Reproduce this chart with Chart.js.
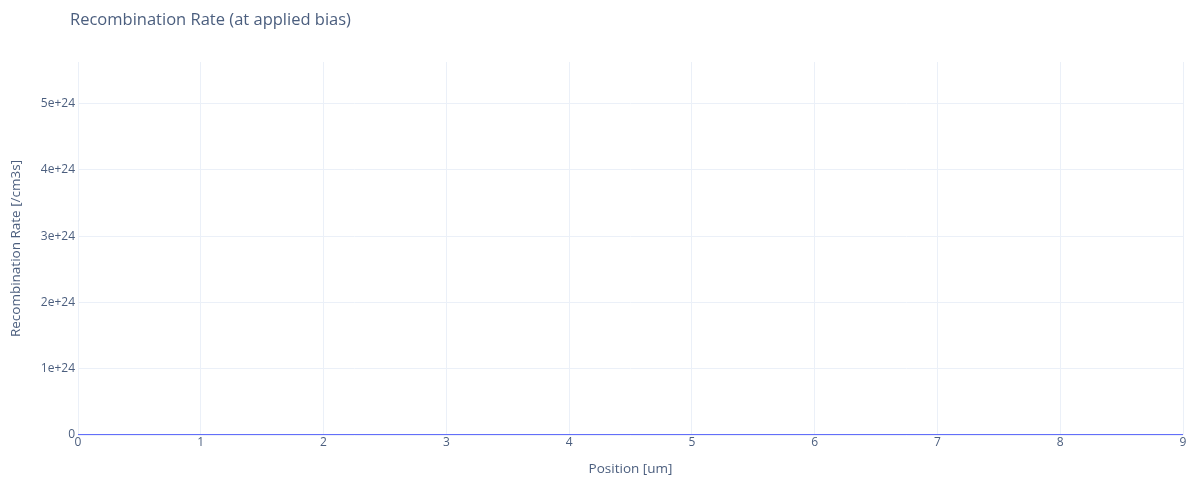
<!DOCTYPE html>
<html>
<head>
<meta charset="utf-8">
<script src="https://cdn.jsdelivr.net/npm/chart.js@4"></script>
<style>
  html, body { margin: 0; padding: 0; background: #fff; }
  #wrap { width: 1186px; height: 477px; position: relative; }
</style>
</head>
<body>
<div id="wrap"><canvas id="rate-chart"></canvas></div>
<script>
// values
var POSITIONS = [0, 0.5, 1, 1.5, 2, 2.5, 3, 3.5, 4, 4.5, 5, 5.5, 6, 6.5, 7, 7.5, 8, 8.5, 9];
var RATES = [0, 0, 0, 0, 0, 0, 0, 0, 0, 0, 0, 0, 0, 0, 0, 0, 0, 0, 0];
var Y_TICKS = [0, 1e24, 2e24, 3e24, 4e24, 5e24];
var Y_MAX = 5.63e24;
var TITLE = 'Recombination Rate (at applied bias)';

var TEXT_COLOR = '#4b5e7e';
var GRID_COLOR = '#EBF0F8';
var FONT = '"Open Sans", "Noto Sans", sans-serif';

var titlePlugin = {
  id: 'plotTitle',
  afterDraw: function (chart) {
    var ctx = chart.ctx;
    ctx.save();
    ctx.font = '16.5px ' + FONT;
    ctx.fillStyle = TEXT_COLOR;
    ctx.textBaseline = 'middle';
    ctx.fillText(TITLE, 70, 20);
    ctx.restore();
  }
};

function formatRate(v) {
  if (v === 0) return '0';
  return Math.round(v / 1e24) + 'e+24';
}

var points = POSITIONS.map(function (x, i) { return { x: x, y: RATES[i] }; });

new Chart(document.getElementById('rate-chart').getContext('2d'), {
  type: 'line',
  data: {
    datasets: [{
      data: points,
      borderColor: '#636efa',
      borderWidth: 2,
      pointRadius: 0,
      fill: false,
      tension: 0
    }]
  },
  options: {
    responsive: true,
    maintainAspectRatio: false,
    animation: false,
    layout: { padding: { top: 62, right: 3, left: 0, bottom: 0 } },
    plugins: { legend: { display: false }, tooltip: { enabled: false } },
    scales: {
      x: {
        type: 'linear',
        min: 0,
        max: 9,
        afterFit: function (s) {
          s.height = 42;
          s.paddingLeft = 0;
          s.paddingRight = 0;
        },
        grid: { color: GRID_COLOR, drawTicks: false },
        border: { display: false },
        ticks: { stepSize: 1, padding: 0, color: TEXT_COLOR, font: { family: FONT, size: 12 } },
        title: {
          display: true,
          text: 'Position [um]',
          color: TEXT_COLOR,
          font: { family: FONT, size: 13.5 },
          padding: { top: 6, bottom: 0 }
        }
      },
      y: {
        min: 0,
        max: Y_MAX,
        afterFit: function (s) {
          s.width = 78;
          s.paddingTop = 0;
          s.paddingBottom = 0;
        },
        afterBuildTicks: function (s) {
          s.ticks = Y_TICKS.map(function (v) { return { value: v }; });
          s.min = 0;
          s.max = Y_MAX;
        },
        grid: { color: GRID_COLOR, drawTicks: false },
        border: { display: false },
        ticks: {
          padding: 3,
          color: TEXT_COLOR,
          font: { family: FONT, size: 12 },
          callback: formatRate
        },
        title: {
          display: true,
          text: 'Recombination Rate [/cm3s]',
          color: TEXT_COLOR,
          font: { family: FONT, size: 13.5 },
          padding: { top: 8, bottom: 0 }
        }
      }
    }
  },
  plugins: [titlePlugin]
});
</script>
</body>
</html>
